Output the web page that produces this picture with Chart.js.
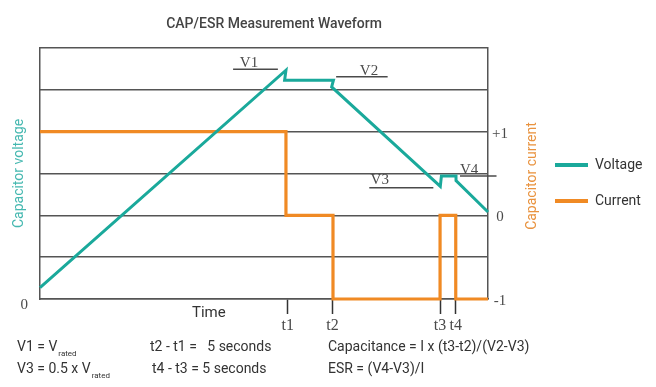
<!DOCTYPE html>
<html><head><meta charset="utf-8">
<script src="https://cdn.jsdelivr.net/npm/chart.js@4.4.1/dist/chart.umd.min.js"></script>
<style>html,body{margin:0;padding:0;background:#fff}canvas{display:block}</style>
</head><body>
<canvas id="c" width="656" height="387"></canvas>
<script>
// ---- data ----
const seriesNames = ['Voltage', 'Current'];
const voltageTimes  = [0, 54.9, 54.6, 65.5, 65.1, 89.35, 89.6, 92.86, 92.86, 100];
const voltageValues = [0.27, 5.47, 5.23, 5.23, 5.07, 2.69, 2.94, 2.94, 2.83, 2.08];
const currentTimes  = [0, 54.9, 65.4, 89.3, 92.8, 100];
const currentValues = [1, 0, -1, 0, -1, -1];
const timeTickValues = [55.3, 65.3, 89.3, 92.8];
const timeTickLabels = ['t1', 't2', 't3', 't4'];
const currentTickValues = [-1, 0, 1];
const currentTickLabels = ['-1', '0', '+1'];
const voltageTickValues = [0];
const voltageTickLabels = ['0'];
const markerLabels = ['V1', 'V2', 'V3', 'V4'];

// ---- annotation layout (data units of the scales) ----
const markerLayout = [
  {tx: 44.6, ty: 5.65, x0: 43.1, x1: 53.1, ly: 5.49},
  {tx: 71.4, ty: 5.46, x0: 66.1, x1: 77.6, ly: 5.31},
  {tx: 73.8, ty: 2.84, x0: 73.5, x1: 87.8, ly: 2.66},
  {tx: 93.75, ty: 3.08, x0: 93.75, x1: 101.9, ly: 2.94}
];
const noteRows = [
  [{t: 'V1 = V', sub: 'rated', x: 17}, {t: 't2 - t1 =   5 seconds', x: 150}, {t: 'Capacitance = I x (t3-t2)/(V2-V3)', x: 328}],
  [{t: 'V3 = 0.5 x V', sub: 'rated', x: 17}, {t: 't4 - t3 = 5 seconds', x: 152}, {t: 'ESR = (V4-V3)/I', x: 328}]
];

const TEAL = '#1aa99b', ORANGE = '#f08a24', GRID = '#555555', SERIF = '"Liberation Serif", serif';

const notesPlugin = {
  id: 'notes',
  afterLayout(chart) {
    const l = chart.legend;
    if (l) { const dx = 533 - l.left; l.left += dx; l.right = 656; l.top -= 10.5; l.bottom -= 10.5; }
    const t = chart.titleBlock;
    if (t) { t.left += 10; t.right += 10; }
  },
  afterDraw(chart) {
    const ctx = chart.ctx, xs = chart.scales.x, ys = chart.scales.y;
    ctx.save();
    // marker labels
    ctx.textBaseline = 'middle'; ctx.textAlign = 'left';
    markerLayout.forEach((m, i) => {
      ctx.font = '15px ' + SERIF; ctx.fillStyle = '#4a4a4a';
      ctx.fillText(markerLabels[i], xs.getPixelForValue(m.tx), ys.getPixelForValue(m.ty));
      ctx.beginPath();
      ctx.moveTo(xs.getPixelForValue(m.x0), ys.getPixelForValue(m.ly));
      ctx.lineTo(xs.getPixelForValue(m.x1), ys.getPixelForValue(m.ly));
      ctx.lineWidth = 1.5; ctx.strokeStyle = '#4a4a4a'; ctx.stroke();
    });
    // right axis title
    ctx.save();
    ctx.translate(532, 176); ctx.rotate(-Math.PI / 2);
    ctx.textAlign = 'center'; ctx.font = '14px Roboto'; ctx.fillStyle = '#e9933f';
    ctx.fillText('Capacitor current', 0, 0);
    ctx.restore();
    // x axis title
    ctx.font = '15px Roboto'; ctx.fillStyle = '#333'; ctx.textAlign = 'left';
    ctx.fillText('Time', 192, 313);
    // formula notes
    const rowY = [347, 369];
    noteRows.forEach((row, r) => {
      row.forEach(n => {
        ctx.font = '14px Roboto'; ctx.fillStyle = '#333';
        ctx.fillText(n.t, n.x, rowY[r]);
        if (n.sub) {
          const w = ctx.measureText(n.t).width;
          ctx.font = '8px Roboto';
          ctx.fillText(n.sub, n.x + w + 1, rowY[r] + 7);
        }
      });
    });
    ctx.restore();
  }
};

new Chart(document.getElementById('c'), {
  type: 'line',
  data: {
    datasets: [
      {
        label: seriesNames[0],
        data: voltageTimes.map((t, i) => ({x: t, y: voltageValues[i]})),
        yAxisID: 'y', borderColor: TEAL, backgroundColor: TEAL, borderWidth: 3,
        pointRadius: 0, tension: 0, clip: false, borderJoinStyle: 'miter'
      },
      {
        label: seriesNames[1],
        data: currentTimes.map((t, i) => ({x: t, y: currentValues[i]})),
        yAxisID: 'y1', borderColor: ORANGE, backgroundColor: ORANGE, borderWidth: 3.2,
        pointRadius: 0, stepped: true, clip: false, borderJoinStyle: 'miter'
      }
    ]
  },
  options: {
    responsive: false, animation: false, devicePixelRatio: 1,
    layout: {padding: 0},
    scales: {
      x: {
        type: 'linear', position: 'bottom', min: 0, max: 100,
        afterFit: s => { s.height = 88; },
        afterBuildTicks: s => { s.ticks = timeTickValues.map(v => ({value: v})); },
        ticks: {
          callback: (v, i) => timeTickLabels[i], autoSkip: false, maxRotation: 0,
          font: {family: SERIF, size: 16}, color: '#4a4a4a', padding: 2
        },
        grid: {drawOnChartArea: false, drawTicks: true, tickLength: 15, tickColor: '#333', tickWidth: 1.5, color: GRID},
        border: {display: true, color: GRID, width: 1.5}
      },
      y: {
        type: 'linear', position: 'left', min: 0, max: 6,
        afterFit: s => { s.width = 40; },
        afterBuildTicks: s => { s.ticks = voltageTickValues.map(v => ({value: v})); },
        ticks: {
          callback: (v, i) => voltageTickLabels[i], padding: 12, labelOffset: 6,
          font: {family: SERIF, size: 15}, color: '#4a4a4a'
        },
        grid: {display: false, drawTicks: false},
        border: {display: true, color: GRID, width: 1.5},
        title: {display: true, text: 'Capacitor voltage', color: '#45b8b0', font: {family: 'Roboto', size: 14}, padding: {top: 10.6, bottom: 0}}
      },
      y1: {
        type: 'linear', position: 'right', min: -1, max: 2,
        afterFit: s => { s.width = 68; },
        ticks: {
          stepSize: 0.5, autoSkip: false,
          callback: v => { const k = currentTickValues.indexOf(v); return k >= 0 ? currentTickLabels[k] : ''; },
          crossAlign: 'center', padding: 4, labelOffset: 2,
          font: {family: SERIF, size: 15}, color: '#4a4a4a'
        },
        grid: {color: GRID, lineWidth: 1.5, drawTicks: false},
        border: {display: true, color: GRID, width: 1.5}
      }
    },
    plugins: {
      title: {
        display: true, text: 'CAP/ESR Measurement Waveform', fullSize: false,
        color: '#444', font: {family: 'Roboto', size: 14, weight: '500'},
        padding: {top: 15.6, bottom: 15.6}
      },
      legend: {
        display: true, position: 'right', maxWidth: 100,
        labels: {
          boxWidth: 33, boxHeight: 4, padding: 22, color: '#333',
          font: {family: 'Roboto', size: 14},
          generateLabels: chart => Chart.defaults.plugins.legend.labels.generateLabels(chart).map(it => Object.assign(it, {lineWidth: 0}))
        }
      },
      tooltip: {enabled: false}
    }
  },
  plugins: [notesPlugin]
});
</script>
</body></html>
